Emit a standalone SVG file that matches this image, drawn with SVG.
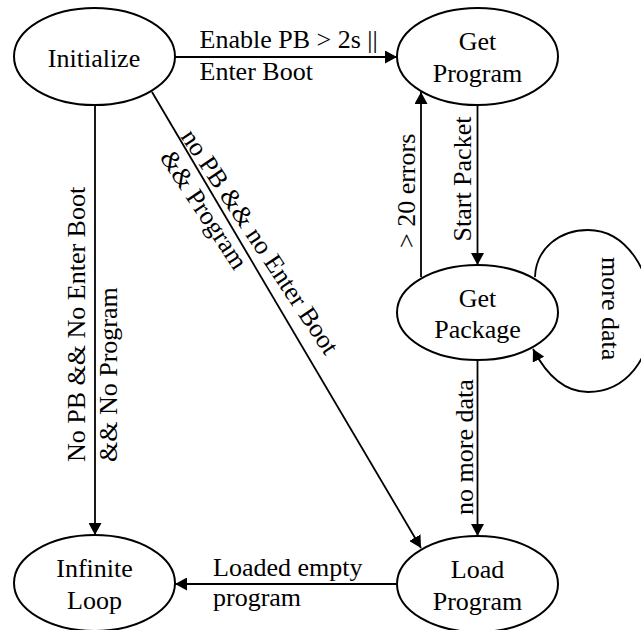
<svg xmlns="http://www.w3.org/2000/svg" width="641" height="630" viewBox="0 0 641 630">
  <style>
    .state { fill: #ffffff; stroke: #000000; stroke-width: 2; }
    .edge { fill: none; stroke: #000000; stroke-width: 1.8; }
  </style>
  <defs>
    <marker id="arrow" markerUnits="userSpaceOnUse" markerWidth="13" markerHeight="13" refX="12" refY="6.5" orient="auto">
      <path d="M0,0 L12,6.5 L0,13 z" fill="#000000"/>
    </marker>
  </defs>
  <rect width="641" height="630" fill="#ffffff"/>

  <!-- transitions -->
  <g id="connectors">
    <path class="edge" d="M175,57 L397,57" marker-end="url(#arrow)"/>
    <path class="edge" d="M95,105 L95,535" marker-end="url(#arrow)"/>
    <path class="edge" d="M152,92 L421,548" marker-end="url(#arrow)"/>
    <path class="edge" d="M477.5,105 L477.5,265" marker-end="url(#arrow)"/>
    <path class="edge" d="M421,277 L421,92" marker-end="url(#arrow)"/>
    <path class="edge" d="M535,277 C536,248 560,230 588,230 C628,230 652,275 652,313 C652,360 625,392 588,392 C562,392 545,372 533,349" marker-end="url(#arrow)"/>
    <path class="edge" d="M477.5,360 L477.5,536" marker-end="url(#arrow)"/>
    <path class="edge" d="M397,584 L175,584" marker-end="url(#arrow)"/>

    <text font-family="'Liberation Serif', 'Times New Roman', serif" font-size="26" x="199.5" y="48">Enable PB &gt; 2s ||</text>
    <text font-family="'Liberation Serif', 'Times New Roman', serif" font-size="26" x="199.5" y="80">Enter Boot</text>
    <text font-family="'Liberation Serif', 'Times New Roman', serif" font-size="26" transform="translate(85,462) rotate(-90)"><tspan x="0" y="0">No PB &amp;&amp; No Enter Boot</tspan><tspan x="0" y="32">&amp;&amp; No Program</tspan></text>
    <text font-family="'Liberation Serif', 'Times New Roman', serif" font-size="26" transform="translate(180,136.5) rotate(56.5)"><tspan x="0" y="0">no PB &amp;&amp; no Enter Boot</tspan><tspan x="6" y="29">&amp;&amp; Program</tspan></text>
    <text font-family="'Liberation Serif', 'Times New Roman', serif" font-size="26" transform="translate(471,241.5) rotate(-90)">Start Packet</text>
    <text font-family="'Liberation Serif', 'Times New Roman', serif" font-size="26" transform="translate(415,248) rotate(-90)">&gt; 20 errors</text>
    <text font-family="'Liberation Serif', 'Times New Roman', serif" font-size="26" transform="translate(602,257) rotate(90)">more data</text>
    <text font-family="'Liberation Serif', 'Times New Roman', serif" font-size="26" transform="translate(472.5,515) rotate(-90)">no more data</text>
    <text font-family="'Liberation Serif', 'Times New Roman', serif" font-size="26" x="213" y="576">Loaded empty</text>
    <text font-family="'Liberation Serif', 'Times New Roman', serif" font-size="26" x="213" y="606">program</text>
  </g>

  <g id="initialize">
    <ellipse class="state" cx="94.5" cy="56.5" rx="80.5" ry="48.5"/>
    <text font-family="'Liberation Serif', 'Times New Roman', serif" font-size="26" text-anchor="middle" x="94" y="67">Initialize</text>
  </g>
  <g id="get-program">
    <ellipse class="state" cx="477.5" cy="56.5" rx="80.5" ry="48.5"/>
    <text font-family="'Liberation Serif', 'Times New Roman', serif" font-size="26" text-anchor="middle" x="477.5" y="50">Get</text>
    <text font-family="'Liberation Serif', 'Times New Roman', serif" font-size="26" text-anchor="middle" x="477.5" y="82">Program</text>
  </g>
  <g id="get-package">
    <ellipse class="state" cx="477.5" cy="312.5" rx="80.5" ry="47.5"/>
    <text font-family="'Liberation Serif', 'Times New Roman', serif" font-size="26" text-anchor="middle" x="477.5" y="306.5">Get</text>
    <text font-family="'Liberation Serif', 'Times New Roman', serif" font-size="26" text-anchor="middle" x="477.5" y="338">Package</text>
  </g>
  <g id="infinite-loop">
    <ellipse class="state" cx="94.5" cy="583" rx="80.5" ry="48"/>
    <text font-family="'Liberation Serif', 'Times New Roman', serif" font-size="26" text-anchor="middle" x="94.5" y="577">Infinite</text>
    <text font-family="'Liberation Serif', 'Times New Roman', serif" font-size="26" text-anchor="middle" x="94.5" y="609">Loop</text>
  </g>
  <g id="load-program">
    <ellipse class="state" cx="477.5" cy="584" rx="80.5" ry="48"/>
    <text font-family="'Liberation Serif', 'Times New Roman', serif" font-size="26" text-anchor="middle" x="477.5" y="578">Load</text>
    <text font-family="'Liberation Serif', 'Times New Roman', serif" font-size="26" text-anchor="middle" x="477.5" y="610">Program</text>
  </g>
</svg>
